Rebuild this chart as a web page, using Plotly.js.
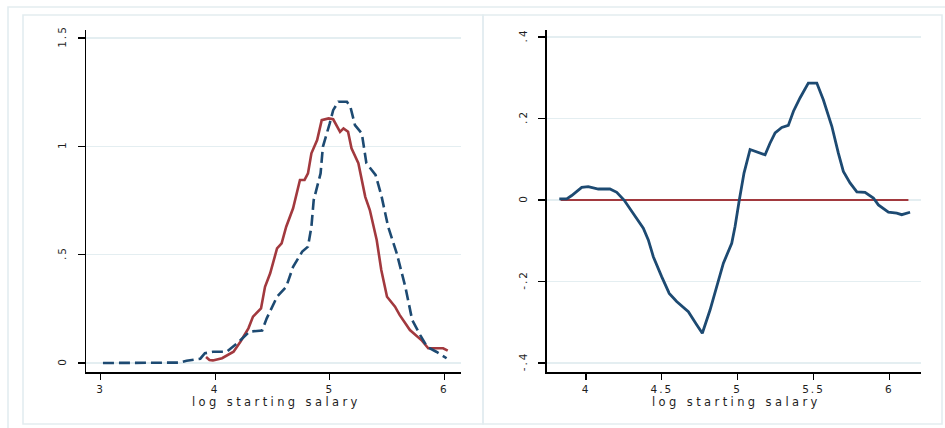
<!DOCTYPE html>
<html>
<head>
<meta charset="utf-8">
<script src="https://cdn.plot.ly/plotly-3.0.1.min.js"></script>
<style>
  html, body { margin: 0; padding: 0; background: #ffffff; }
  #chart { width: 945px; height: 428px; }
  .xtick text, .ytick text, .x2tick text, .y2tick text { letter-spacing: 2px; }
  .annotation-text { letter-spacing: 3.4px; }
</style>
</head>
<body>
<div id="chart"></div>
<script>
// ---- Left panel: densities of log starting salary ----
const densRedX = [3.92, 3.95, 3.98, 4.06, 4.16, 4.22, 4.29, 4.33, 4.40, 4.435, 4.48, 4.54, 4.58, 4.62, 4.68, 4.74, 4.78, 4.81, 4.84, 4.89, 4.93, 4.99, 5.03, 5.09, 5.12, 5.16, 5.19, 5.25, 5.31, 5.35, 5.41, 5.45, 5.50, 5.57, 5.61, 5.70, 5.80, 5.86, 5.99, 6.03];
const densRedY = [0.028, 0.014, 0.012, 0.022, 0.052, 0.098, 0.160, 0.214, 0.252, 0.352, 0.414, 0.529, 0.552, 0.629, 0.714, 0.845, 0.845, 0.875, 0.968, 1.029, 1.121, 1.129, 1.125, 1.067, 1.083, 1.067, 0.991, 0.922, 0.767, 0.706, 0.568, 0.429, 0.306, 0.260, 0.222, 0.152, 0.106, 0.068, 0.068, 0.057];

const densBlueX = [3.02, 3.30, 3.60, 3.69, 3.75, 3.87, 3.91, 3.98, 4.10, 4.19, 4.30, 4.41, 4.45, 4.54, 4.62, 4.68, 4.76, 4.81, 4.84, 4.86, 4.92, 4.94, 5.00, 5.03, 5.075, 5.15, 5.18, 5.22, 5.28, 5.32, 5.40, 5.45, 5.51, 5.585, 5.66, 5.72, 5.79, 5.85, 5.93, 6.02];
const densBlueY = [0.000, 0.000, 0.000, 0.002, 0.010, 0.020, 0.045, 0.052, 0.052, 0.090, 0.145, 0.150, 0.206, 0.306, 0.352, 0.444, 0.514, 0.537, 0.629, 0.752, 0.875, 0.998, 1.106, 1.167, 1.206, 1.206, 1.183, 1.098, 1.060, 0.922, 0.868, 0.775, 0.629, 0.506, 0.352, 0.198, 0.129, 0.075, 0.052, 0.022];

// ---- Right panel: difference of densities ----
const diffX = [3.824, 3.873, 3.906, 3.972, 4.015, 4.081, 4.158, 4.203, 4.251, 4.312, 4.378, 4.411, 4.444, 4.499, 4.549, 4.598, 4.675, 4.730, 4.767, 4.818, 4.862, 4.906, 4.961, 4.983, 5.011, 5.042, 5.082, 5.126, 5.181, 5.214, 5.247, 5.291, 5.334, 5.368, 5.412, 5.466, 5.522, 5.565, 5.621, 5.664, 5.697, 5.741, 5.786, 5.840, 5.895, 5.928, 5.994, 6.049, 6.082, 6.137];
const diffY = [0.003, 0.003, 0.011, 0.031, 0.033, 0.027, 0.027, 0.019, 0.000, -0.032, -0.069, -0.098, -0.139, -0.188, -0.229, -0.249, -0.274, -0.306, -0.327, -0.270, -0.212, -0.155, -0.106, -0.065, 0.000, 0.066, 0.124, 0.119, 0.111, 0.140, 0.165, 0.178, 0.183, 0.218, 0.251, 0.287, 0.287, 0.246, 0.181, 0.115, 0.070, 0.042, 0.020, 0.019, 0.005, -0.012, -0.030, -0.032, -0.036, -0.030];
const zeroLineX = [3.833, 6.126];
const zeroLineY = [0, 0];

// ---- Tick labels ----
const leftXTicks = [3, 4, 5, 6];
const leftYTicks = [0, 0.5, 1, 1.5];
const leftYLabels = ["0", ".5", "1", "1.5"];
const rightXTicks = [4, 4.5, 5, 5.5, 6];
const rightXLabels = ["4", "4.5", "5", "5.5", "6"];
const rightYTicks = [-0.4, -0.2, 0, 0.2, 0.4];
const rightYLabels = ["-.4", "-.2", "0", ".2", ".4"];
const xTitle = "log starting salary";

const NAVY = "#1d4a72";
const RED = "#a2393e";
const GRID = "#e4eef1";
const FRAME = "#e3edf0";
const TXT = "#1e1e1e";
const W = 945, H = 428;

const traces = [
  { x: densRedX, y: densRedY, xaxis: "x", yaxis: "y", mode: "lines", line: { color: RED, width: 2.6, shape: "linear" }, hoverinfo: "skip" },
  { x: densBlueX, y: densBlueY, xaxis: "x", yaxis: "y", mode: "lines", line: { color: NAVY, width: 2.6, dash: "11px,5px" }, hoverinfo: "skip" },
  { x: zeroLineX, y: zeroLineY, xaxis: "x2", yaxis: "y2", mode: "lines", line: { color: RED, width: 1.8 }, hoverinfo: "skip" },
  { x: diffX, y: diffY, xaxis: "x2", yaxis: "y2", mode: "lines", line: { color: NAVY, width: 2.8 }, hoverinfo: "skip" }
];

const tickFont = { family: "DejaVu Sans, Verdana, sans-serif", size: 10.5, color: TXT };
const titleFont = { family: "DejaVu Sans, Verdana, sans-serif", size: 11.5, color: TXT };

function xAx(domain, range, tv, tt) {
  return {
    domain: domain, range: range, tickvals: tv, ticktext: tt,
    showline: true, linecolor: "#000", linewidth: 1.5, mirror: false,
    ticks: "outside", ticklen: 6, tickwidth: 1.3, tickcolor: "#000",
    showgrid: false, zeroline: false, tickfont: tickFont, ticklabelstandoff: 1,
    fixedrange: true
  };
}
function yAx(domain, range, tv, tt, anchor) {
  return {
    domain: domain, range: range, tickvals: tv, ticktext: tt, anchor: anchor,
    showline: true, linecolor: "#000", linewidth: 1.5,
    ticks: "outside", ticklen: 7, tickwidth: 1.3, tickcolor: "#000",
    showgrid: true, gridcolor: GRID, gridwidth: 1.5, zeroline: false,
    tickangle: -90, tickfont: tickFont, ticklabelstandoff: 7, fixedrange: true
  };
}

const yDom = [1 - 372 / H, 1 - 30 / H];
const layout = {
  width: W, height: H,
  margin: { l: 0, r: 0, t: 0, b: 0 },
  paper_bgcolor: "#ffffff", plot_bgcolor: "#ffffff",
  showlegend: false,
  xaxis: Object.assign(xAx([86 / W, 461 / W], [2.872, 6.146], leftXTicks, leftXTicks.map(String)), { anchor: "y" }),
  yaxis: yAx(yDom, [-0.0415, 1.537], leftYTicks, leftYLabels, "x"),
  xaxis2: Object.assign(xAx([546.7 / W, 920.7 / W], [3.741, 6.207], rightXTicks, rightXLabels), { anchor: "y2" }),
  yaxis2: yAx(yDom, [-0.422, 0.4172], rightYTicks, rightYLabels, "x2"),
  annotations: [
    { text: xTitle, xref: "paper", yref: "paper", x: 276 / W, y: 1 - 402 / H, xanchor: "center", yanchor: "middle", showarrow: false, font: titleFont },
    { text: xTitle, xref: "paper", yref: "paper", x: 736 / W, y: 1 - 402 / H, xanchor: "center", yanchor: "middle", showarrow: false, font: titleFont }
  ],
  shapes: [
    { type: "rect", xref: "paper", yref: "paper", x0: 8 / W, x1: 1.02, y0: -0.02, y1: 1 - 7 / H, line: { color: FRAME, width: 1.6 }, layer: "below" },
    { type: "rect", xref: "paper", yref: "paper", x0: 23 / W, x1: 483 / W, y0: 1 - 424 / H, y1: 1 - 15 / H, line: { color: FRAME, width: 1.6 }, layer: "below" },
    { type: "rect", xref: "paper", yref: "paper", x0: 483 / W, x1: 942 / W, y0: 1 - 424 / H, y1: 1 - 15 / H, line: { color: FRAME, width: 1.6 }, layer: "below" }
  ]
};

Plotly.newPlot("chart", traces, layout, { displayModeBar: false, staticPlot: true });
</script>
</body>
</html>
